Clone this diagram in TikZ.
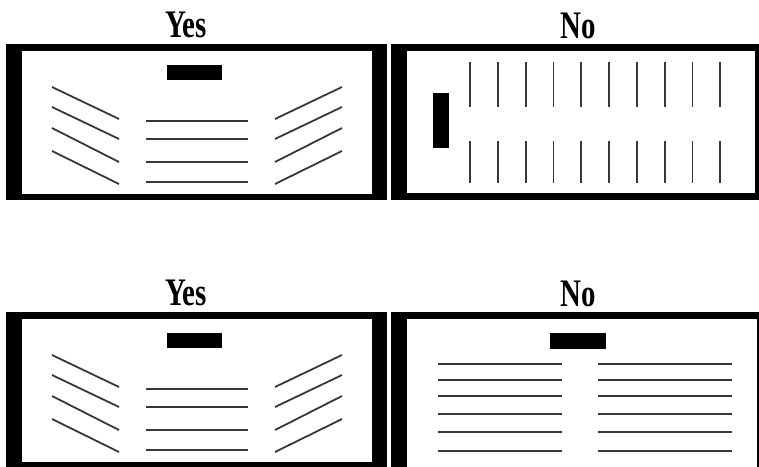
\documentclass[tikz,border=0pt]{standalone}
\usepackage{fontspec}
\setmainfont{Liberation Serif}
\tikzset{
  wall/.style    ={fill=black},
  floor/.style   ={fill=white},
  stagebox/.style={fill=black},
  seat/.style    ={draw=black!78,line width=1.8pt},
  ttl/.style     ={font=\bfseries\fontsize{39}{39}\selectfont,xscale=.74,inner sep=0pt,anchor=base},
}

\begin{document}
\begin{tikzpicture}[x=1pt,y=-1pt]
\useasboundingbox (0,0) rectangle (759,466);
\fill[white] (0,0) rectangle (759,466);

% ===== "Yes" rooms (left, top and bottom) =====
\foreach \dy/\nm in {0/yesA,268/yesB}{
  \begin{scope}[shift={(0,\dy)}]
    \fill[wall] (6,44) rectangle (387,200);
    \fill[floor] (22,51) rectangle (372,194);
    \fill[stagebox] (167,65) rectangle (222,80);
    \foreach \ya/\yb in {87/119,107/139,128/162,151/184}{
      \draw[seat] (52,\ya) -- (119,\yb);
      \draw[seat] (342,\ya) -- (275,\yb);
    }
    \foreach \y in {121,139,162,182} \draw[seat] (146,\y) -- (248,\y);
    \node[ttl] (\nm) at (186,37) {Yes};
  \end{scope}
}

% ===== "No" room (top right) =====
\fill[wall] (391,44) rectangle (759,200);
\fill[floor] (407,51) rectangle (755,193);
\fill[stagebox] (433,93) rectangle (449,148);
\foreach \i in {0,...,9}{
  \draw[seat] ({470+27.8*\i},62) -- ++(0,45);
  \draw[seat] ({470+27.8*\i},141) -- ++(0,42);
}
\node[ttl] (noA) at (578,38) {No};

% ===== "No" room (bottom right) =====
\fill[wall] (391,312) rectangle (759,470);
\fill[floor] (407,319) rectangle (757,470);
\fill[stagebox] (550,333) rectangle (606,349);
\foreach \y in {364,380,396,414,432,451}{
  \draw[seat] (438,\y) -- (562,\y);
  \draw[seat] (598,\y) -- (732,\y);
}
\node[ttl] (noB) at (578,306) {No};
\end{tikzpicture}
\end{document}
